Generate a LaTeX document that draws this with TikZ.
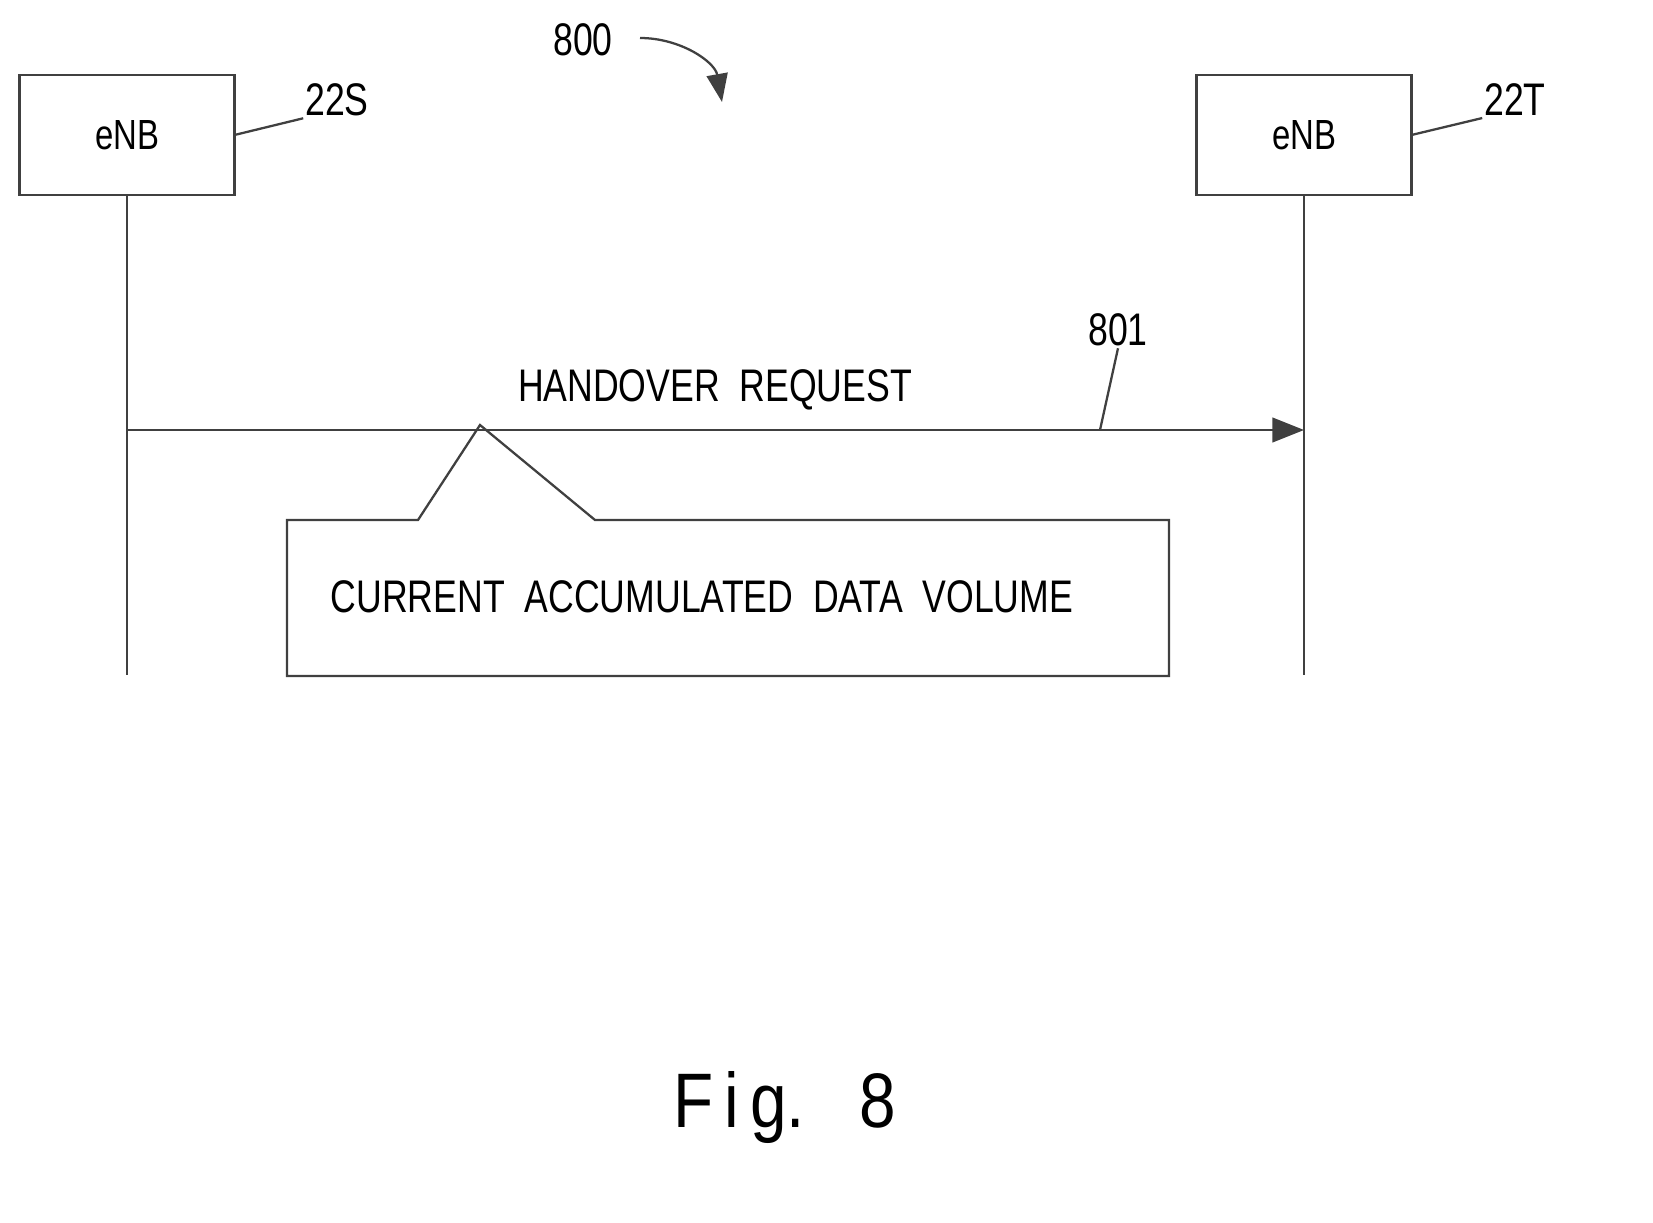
\documentclass[tikz,border=0pt]{standalone}
\usepackage{fontspec}
\setmainfont{Liberation Sans}
\usetikzlibrary{arrows.meta}
\newcommand{\narrow}[1]{\scalebox{0.78}[1]{#1}}
\begin{document}
\begin{tikzpicture}[x=0.02cm,y=-0.02cm,
  line/.style = {draw=black!75,line width=1.3pt},
  box/.style = {rectangle,line,minimum width=4.3cm,minimum height=2.4cm,outer sep=0mm,font=\fontsize{24}{28}\selectfont},
  lbl/.style = {font=\fontsize{26}{30}\selectfont,inner sep=1pt}]
\useasboundingbox (0,0) rectangle (1653,1223);
% entities
\node[box] (src) at (127,135) {\narrow{eNB}};
\node[box] (tgt) at (1304,135) {\narrow{eNB}};
\node[lbl] (srcref) at (337,100) {\narrow{22S}};
\node[lbl] (tgtref) at (1515,100) {\narrow{22T}};
\draw[line] (src.east) -- (srcref.south west);
\draw[line] (tgt.east) -- (tgtref.south west);
% figure reference
\node[lbl] (figref) at (583,40) {\narrow{800}};
\coordinate (figstart) at (640,38);
\coordinate (figtip) at (722,102);
\draw[line,-{Triangle[length=16pt,width=12pt]}] (figstart) to[out=0,in=100] (figtip);
% lifelines
\coordinate (srcend) at (127,675);
\coordinate (tgtend) at (1304,675);
\draw[line] (src.south) -- (srcend);
\draw[line] (tgt.south) -- (tgtend);
% message
\coordinate (msgstart) at (127,430);
\coordinate (msgend) at (1304,430);
\draw[line,-{Triangle[length=18pt,width=14pt]}] (msgstart) -- (msgend);
\node[lbl] (msglbl) at (715,390) {\narrow{HANDOVER\ \ REQUEST}};
\node[lbl] (msgref) at (1118,330) {\narrow{801}};
\coordinate (msgpt) at (1100,430);
\draw[line] (msgpt) -- (msgref.south);
% callout
\draw[line] (418,520) -- (480,425) -- (595,520) -- (1169,520) -- (1169,676)
  -- (287,676) -- (287,520) -- cycle;
\node[lbl] (content) at (702,597) {\narrow{CURRENT\ \ ACCUMULATED\ \ DATA\ \ VOLUME}};
% caption
\node[font=\fontsize{44}{50}\selectfont] (caption) at (785,1108) {\scalebox{0.85}[1]{F\,i\,g.\ \ \ 8}};
\end{tikzpicture}
\end{document}
